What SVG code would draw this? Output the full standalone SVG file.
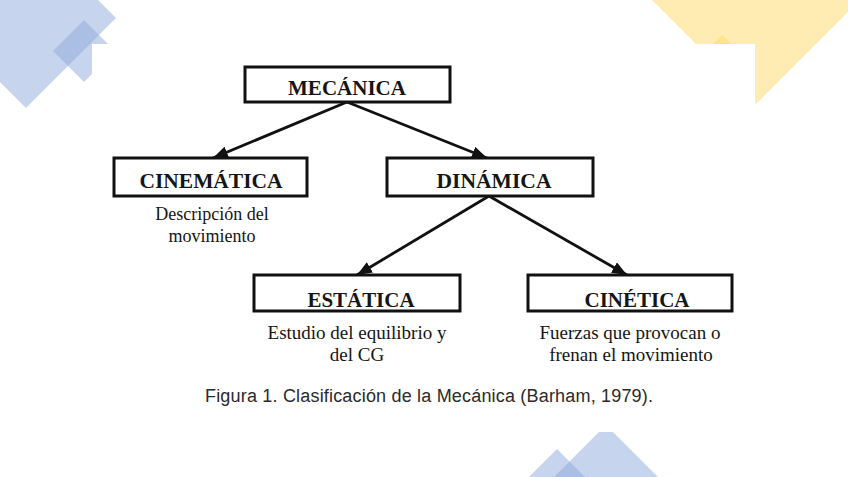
<svg xmlns="http://www.w3.org/2000/svg" width="848" height="477" viewBox="0 0 848 477">
  <style>
    .box { fill: #ffffff; stroke: #111111; stroke-width: 3; }
    .title { font-family: "Liberation Serif", "Times New Roman", serif; font-weight: bold; font-size: 21px; fill: #151515; text-anchor: middle; }
    .desc { font-family: "Liberation Serif", "Times New Roman", serif; font-size: 18px; fill: #151515; text-anchor: middle; }
    .desc2 { font-family: "Liberation Serif", "Times New Roman", serif; font-size: 19px; fill: #151515; text-anchor: middle; }
    .cap { font-family: "Liberation Sans", Arial, sans-serif; font-size: 18px; fill: #2a2a2a; text-anchor: middle; }
    .conn { stroke: #111111; stroke-width: 2.8; fill: none; marker-end: url(#arrow); }
    .blue { fill: #8faadc; opacity: 0.5; }
    .yellow { fill: #ffd966; opacity: 0.5; }
  </style>
  <defs>
    <marker id="arrow" markerUnits="userSpaceOnUse" markerWidth="16" markerHeight="12" refX="15" refY="6" orient="auto">
      <path d="M0,0 L15,6 L0,12 z" fill="#111111"/>
    </marker>
  </defs>
  <rect width="848" height="477" fill="#ffffff"/>

  <g id="decor">
    <polygon class="blue" points="26,-72 116,18 26,108 -64,18"/>
    <polygon class="blue" points="84,20 108,44 92,44 92,74 84,82 53,51"/>
    <polygon class="yellow" points="652,0 848,0 848,12 756,104 755,103 755,44 696,44"/>
    <polygon class="yellow" points="722,35 713,44 731,44"/>
    <polygon class="blue" points="599,432 613,432 658,477 554,477"/>
    <polygon class="blue" points="557,449 585,477 529,477"/>
  </g>

  <g id="connectors">
    <line class="conn" x1="347" y1="102" x2="213" y2="158"/>
    <line class="conn" x1="347" y1="102" x2="487" y2="158"/>
    <line class="conn" x1="489" y1="196" x2="357" y2="275"/>
    <line class="conn" x1="489" y1="196" x2="627" y2="275"/>
  </g>

  <g id="mecanica">
    <rect class="box" x="245" y="67" width="205" height="35"/>
    <text class="title" x="347" y="95" textLength="118" lengthAdjust="spacingAndGlyphs">MECÁNICA</text>
  </g>

  <g id="cinematica">
    <rect class="box" x="114" y="158" width="193" height="38"/>
    <text class="title" x="211" y="188" textLength="143" lengthAdjust="spacingAndGlyphs">CINEMÁTICA</text>
    <text class="desc" x="212" y="220">Descripción del</text>
    <text class="desc" x="212" y="242">movimiento</text>
  </g>

  <g id="dinamica">
    <rect class="box" x="387" y="158" width="206" height="38"/>
    <text class="title" x="494" y="188" textLength="115" lengthAdjust="spacingAndGlyphs">DINÁMICA</text>
  </g>

  <g id="estatica">
    <rect class="box" x="254" y="275" width="206" height="36"/>
    <text class="title" x="361" y="307" textLength="107" lengthAdjust="spacingAndGlyphs">ESTÁTICA</text>
    <text class="desc2" x="357" y="339">Estudio del equilibrio y</text>
    <text class="desc2" x="357" y="361">del CG</text>
  </g>

  <g id="cinetica">
    <rect class="box" x="528" y="275" width="204" height="36"/>
    <text class="title" x="637" y="307" textLength="105" lengthAdjust="spacingAndGlyphs">CINÉTICA</text>
    <text class="desc2" x="630" y="339">Fuerzas que provocan o</text>
    <text class="desc2" x="631" y="361">frenan el movimiento</text>
  </g>

  <g id="caption">
    <text class="cap" x="429" y="402" textLength="448">Figura 1. Clasificación de la Mecánica (Barham, 1979).</text>
  </g>
</svg>
